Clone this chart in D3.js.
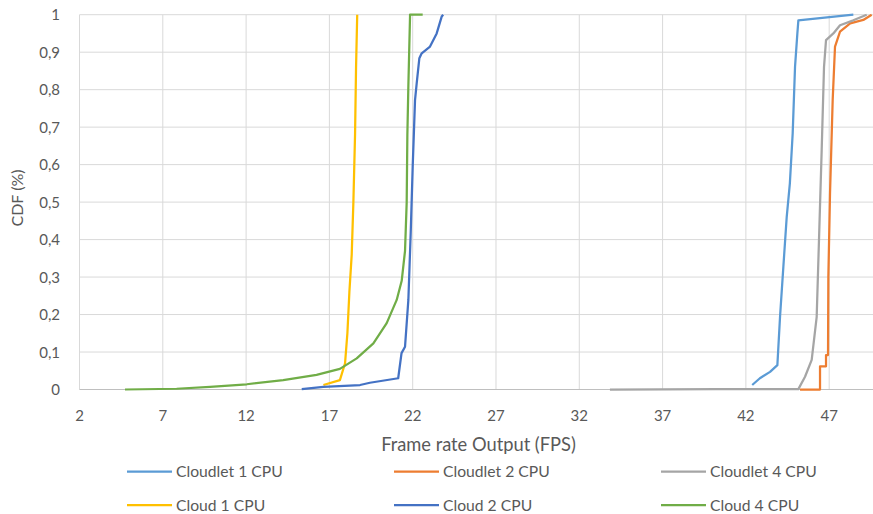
<!DOCTYPE html>
<html>
<head>
<meta charset="utf-8">
<script src="https://cdn.jsdelivr.net/npm/d3@7"></script>
<style>
    body { margin: 0; background: #fff; }
    text { font-family: Lato, "Open Sans", sans-serif; fill: #595959; }
</style>
</head>
<body>
<svg id="chart" width="873" height="514"></svg>
<script>

// tick labels
const xTicks = [2, 7, 12, 17, 22, 27, 32, 37, 42, 47]
const yTicks = [0, 0.1, 0.2, 0.3, 0.4, 0.5, 0.6, 0.7, 0.8, 0.9, 1]

// series names and colours
const seriesNames = ["Cloudlet 1 CPU", "Cloudlet 2 CPU", "Cloudlet 4 CPU", "Cloud 1 CPU", "Cloud 2 CPU", "Cloud 4 CPU"]
const seriesColors = ["#5B9BD5", "#ED7D31", "#A5A5A5", "#FFC000", "#4472C4", "#70AD47"]

// [fps, cdf]
const cloudlet1 = [[42.38, 0.012], [42.84, 0.03], [43.45, 0.047], [43.89, 0.065], [44.05, 0.194], [44.25, 0.328],
    [44.45, 0.46], [44.64, 0.55], [44.81, 0.684], [44.95, 0.861], [45.09, 0.95], [45.15, 0.985], [48.45, 1]]
const cloudlet2 = [[45.25, 0], [46.45, 0], [46.45, 0.062], [46.81, 0.062], [46.81, 0.092], [46.93, 0.092],
    [46.95, 0.3], [47.05, 0.523], [47.21, 0.772], [47.35, 0.915], [47.65, 0.955], [48.26, 0.977], [49.05, 0.986], [49.55, 1]]
const cloudlet4 = [[33.84, 0], [40.23, 0.001], [45.15, 0.001], [45.55, 0.034], [45.95, 0.079], [46.25, 0.194],
    [46.4, 0.417], [46.55, 0.639], [46.69, 0.861], [46.81, 0.932], [47.25, 0.95], [47.65, 0.972], [48.45, 0.985], [49.25, 1]]
const cloud1 = [[16.64, 0.012], [17.63, 0.025], [17.94, 0.07], [18.08, 0.15], [18.2, 0.26], [18.34, 0.36],
    [18.44, 0.5], [18.54, 0.68], [18.6, 0.86], [18.67, 1]]
const cloud2 = [[15.34, 0.001], [16.64, 0.007], [18.84, 0.012], [19.43, 0.018], [21.13, 0.03], [21.33, 0.097],
    [21.54, 0.114], [21.74, 0.239], [21.88, 0.417], [22.0, 0.594], [22.14, 0.772], [22.24, 0.817], [22.4, 0.884],
    [22.54, 0.897], [23.04, 0.915], [23.44, 0.95], [23.74, 0.995], [23.83, 1]]
const cloud4 = [[4.73, 0], [7.83, 0.002], [9.84, 0.007], [12.04, 0.014], [14.23, 0.025], [16.23, 0.039],
    [17.63, 0.055], [18.64, 0.083], [19.64, 0.123], [20.44, 0.177], [21.04, 0.239], [21.34, 0.29], [21.54, 0.37],
    [21.64, 0.5], [21.68, 0.68], [21.74, 0.81], [21.84, 0.995], [21.84, 1], [22.6, 1]]

const seriesData = [cloudlet1, cloudlet2, cloudlet4, cloud1, cloud2, cloud4]

const svg = d3.select("#chart")

const x = d3.scaleLinear().domain([2, 49.63]).range([79.5, 873])
const y = d3.scaleLinear().domain([0, 1]).range([389.5, 14.7])

// gridlines
svg.append("g")
.selectAll("line")
.data(xTicks)
.join("line")
.attr("x1", d => x(d)).attr("x2", d => x(d))
.attr("y1", y(0)).attr("y2", y(1))
.attr("stroke", "#D9D9D9")
.attr("stroke-width", 1)

svg.append("g")
.selectAll("line")
.data(yTicks)
.join("line")
.attr("x1", x(2)).attr("x2", 873)
.attr("y1", d => y(d)).attr("y2", d => y(d))
.attr("stroke", d => d === 0 ? "#BFBFBF" : "#D9D9D9")
.attr("stroke-width", 1)

// tick labels
svg.append("g")
.selectAll("text")
.data(yTicks)
.join("text")
.attr("x", 60)
.attr("y", d => y(d) + 5.5)
.attr("text-anchor", "end")
.attr("font-size", 15)
.text(d => String(d).replace(".", ","))

svg.append("g")
.selectAll("text")
.data(xTicks)
.join("text")
.attr("x", d => x(d))
.attr("y", 420.5)
.attr("text-anchor", "middle")
.attr("font-size", 15)
.text(d => d)

// axis titles
svg.append("text")
.attr("transform", "translate(23,198) rotate(-90)")
.attr("text-anchor", "middle")
.attr("font-size", 16)
.text("CDF (%)")

svg.append("text")
.attr("x", 478.5)
.attr("y", 451)
.attr("text-anchor", "middle")
.attr("font-size", 18.3)
.text("Frame rate Output (FPS)")

// curves
const line = d3.line().x(d => x(d[0])).y(d => y(d[1]))

svg.append("g")
.selectAll("path")
.data(seriesData)
.join("path")
.attr("d", line)
.attr("fill", "none")
.attr("stroke", (d, i) => seriesColors[i])
.attr("stroke-width", 2.25)
.attr("stroke-linejoin", "round")

// legend, 3 columns x 2 rows
const legendX = [127, 394, 661]
const legendY = [471.5, 505]

const legend = svg.append("g")
.selectAll("g")
.data(seriesNames)
.join("g")
.attr("transform", (d, i) => `translate(${legendX[i % 3]},${legendY[Math.floor(i / 3)]})`)

legend.append("line")
.attr("x1", 0).attr("x2", 45)
.attr("stroke", (d, i) => seriesColors[i])
.attr("stroke-width", 2.25)

legend.append("text")
.attr("x", 49)
.attr("y", 5.5)
.attr("font-size", 15.7)
.text(d => d)

</script>
</body>
</html>
